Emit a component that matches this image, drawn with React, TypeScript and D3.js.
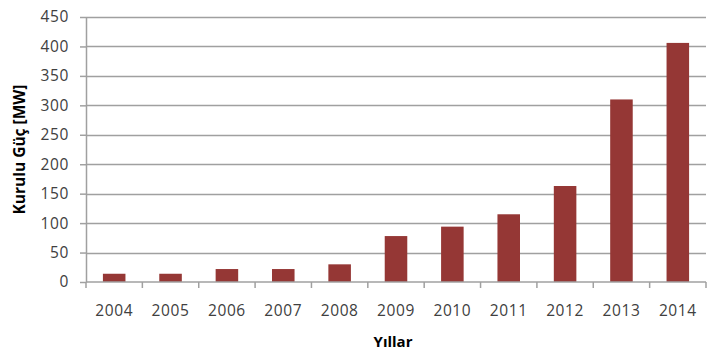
import React, { useEffect, useRef } from "react";
import * as d3 from "d3";

const YEARS = ["2004", "2005", "2006", "2007", "2008", "2009", "2010", "2011", "2012", "2013", "2014"];
const POWER = [14, 14, 22, 22, 30, 78, 94, 115, 163, 310, 406];
const Y_TICKS = [0, 50, 100, 150, 200, 250, 300, 350, 400, 450];

const W = 719;
const H = 354;
const M = { top: 17, right: 13, bottom: 72, left: 86 };

export default function App() {
	const ref = useRef<SVGSVGElement>(null);

	useEffect(() => {
		const svg = d3.select(ref.current);
		svg.selectAll("*").remove();

		const x = d3.scaleBand().domain(YEARS).range([M.left, W - M.right]).paddingInner(0.6).paddingOuter(0.3);
		const xEdge = d3.scaleBand().domain(YEARS).range([M.left, W - M.right]);
		const y = d3.scaleLinear().domain([0, 450]).range([H - M.bottom, M.top]);
		const font = "Open Sans, sans-serif";
		const grey = "#a0a0a0";

		// grid
		svg
			.append("g")
			.selectAll("line")
			.data(Y_TICKS.slice(1))
			.enter()
			.append("line")
			.attr("x1", M.left)
			.attr("x2", W - M.right)
			.attr("y1", (d) => Math.round(y(d)) + 0.5)
			.attr("y2", (d) => Math.round(y(d)) + 0.5)
			.attr("stroke", grey)
			.attr("stroke-width", 1.5);

		// bars
		svg
			.append("g")
			.selectAll("rect")
			.data(POWER)
			.enter()
			.append("rect")
			.attr("x", (d, i) => x(YEARS[i])!)
			.attr("width", x.bandwidth())
			.attr("y", (d) => y(d))
			.attr("height", (d) => y(0) - y(d))
			.attr("fill", "#953735");

		// y axis
		const yAxis = d3.axisLeft(y).tickValues(Y_TICKS).tickSize(6).tickSizeOuter(0).tickPadding(11);
		const gy = svg.append("g").attr("transform", `translate(${M.left},0)`).call(yAxis);
		gy.selectAll("line").attr("stroke", grey).attr("stroke-width", 1.5);
		gy.select(".domain").attr("stroke", grey).attr("stroke-width", 1.5);
		gy.selectAll("text")
			.attr("font-family", font)
			.attr("font-size", 15.5)
			.attr("letter-spacing", 0.6)
			.attr("fill", "#404040");

		// x axis
		const gx = svg.append("g").attr("transform", `translate(0,${y(0)})`);
		gx.append("line")
			.attr("x1", M.left)
			.attr("x2", W - M.right)
			.attr("stroke", grey)
			.attr("stroke-width", 1.5);
		gx.selectAll(".tk")
			.data([...YEARS.map((d) => xEdge(d)!), W - M.right])
			.enter()
			.append("line")
			.attr("x1", (d) => d)
			.attr("x2", (d) => d)
			.attr("y1", 0)
			.attr("y2", 6)
			.attr("stroke", grey)
			.attr("stroke-width", 1.5);
		gx.selectAll("text")
			.data(YEARS)
			.enter()
			.append("text")
			.attr("x", (d) => xEdge(d)! + xEdge.bandwidth() / 2)
			.attr("y", 34)
			.attr("text-anchor", "middle")
			.attr("font-family", font)
			.attr("font-size", 15.5)
			.attr("letter-spacing", 0.6)
			.attr("fill", "#404040")
			.text((d) => d);

		// titles
		svg
			.append("text")
			.attr("transform", `translate(25,${(M.top + y(0)) / 2}) rotate(-90)`)
			.attr("text-anchor", "middle")
			.attr("font-family", font)
			.attr("font-size", 15.5)
			.attr("font-weight", "bold")
			.attr("fill", "#000")
			.text("Kurulu Güç [MW]");

		svg
			.append("text")
			.attr("x", 393)
			.attr("y", 347)
			.attr("text-anchor", "middle")
			.attr("font-family", font)
			.attr("font-size", 15)
			.attr("font-weight", "bold")
			.attr("fill", "#000")
			.text("Yıllar");
	}, []);

	return (
		<svg
			ref={ref}
			width={W}
			height={H}
			style={{ position: "absolute", left: 0, top: 0, background: "#fff" }}
		></svg>
	);
}
